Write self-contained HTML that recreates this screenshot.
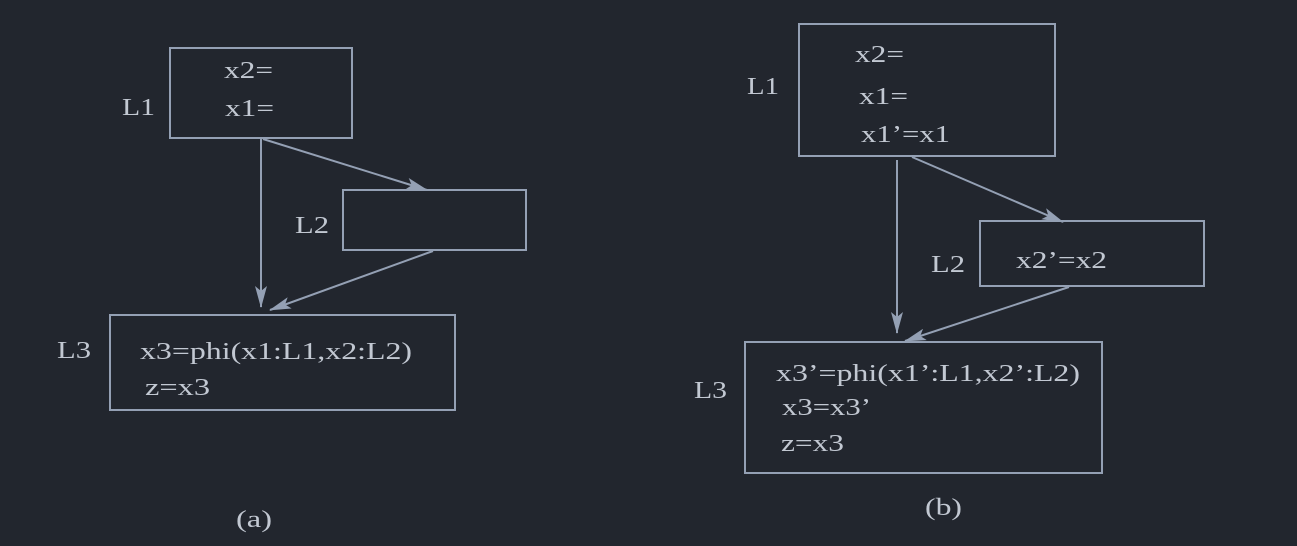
<!DOCTYPE html>
<html><head><meta charset="utf-8"><style>
html,body{margin:0;padding:0;background:#22262e;}
svg{display:block}
text{font-family:"Liberation Serif",serif;font-size:24px;fill:#c2c8d2;dominant-baseline:central}
</style></head><body>
<svg width="1297" height="546" viewBox="0 0 1297 546">
<defs>
<marker id="b" markerWidth="22" markerHeight="12" refX="21" refY="6" orient="auto" markerUnits="userSpaceOnUse"><path d="M0,0 L22,6 L0,12 L5,6 Z" fill="#94a0b4"/></marker></defs>
<g fill="none" stroke="#94a0b4" stroke-width="2">
<rect x="170" y="48" width="182" height="90"/>
<rect x="343" y="190" width="183" height="60"/>
<rect x="110" y="315" width="345" height="95"/>
<line x1="261" y1="138" x2="261" y2="307" marker-end="url(#b)"/>
<line x1="263" y1="139" x2="427" y2="190" marker-end="url(#b)"/>
<line x1="433" y1="251" x2="270" y2="310" marker-end="url(#b)"/>
<rect x="799" y="24" width="256" height="132"/>
<rect x="980" y="221" width="224" height="65"/>
<rect x="745" y="342" width="357" height="131"/>
<line x1="897" y1="160" x2="897" y2="333" marker-end="url(#b)"/>
<line x1="912" y1="157" x2="1063" y2="222" marker-end="url(#b)"/>
<line x1="1069" y1="287" x2="905" y2="341" marker-end="url(#b)"/>
</g>
<g lengthAdjust="spacingAndGlyphs">
<text x="224" y="71" textLength="49" lengthAdjust="spacingAndGlyphs">x2=</text>
<text x="225" y="109" textLength="49" lengthAdjust="spacingAndGlyphs">x1=</text>
<text x="122" y="108" textLength="33" lengthAdjust="spacingAndGlyphs">L1</text>
<text x="295" y="226" textLength="34" lengthAdjust="spacingAndGlyphs">L2</text>
<text x="57" y="351" textLength="34" lengthAdjust="spacingAndGlyphs">L3</text>
<text x="140" y="352" textLength="272" lengthAdjust="spacingAndGlyphs">x3=phi(x1:L1,x2:L2)</text>
<text x="145" y="388" textLength="65" lengthAdjust="spacingAndGlyphs">z=x3</text>
<text x="236" y="520" textLength="36" lengthAdjust="spacingAndGlyphs">(a)</text>
<text x="855" y="55" textLength="49" lengthAdjust="spacingAndGlyphs">x2=</text>
<text x="859" y="97" textLength="49" lengthAdjust="spacingAndGlyphs">x1=</text>
<text x="861" y="135" textLength="89" lengthAdjust="spacingAndGlyphs">x1’=x1</text>
<text x="747" y="87" textLength="32" lengthAdjust="spacingAndGlyphs">L1</text>
<text x="931" y="265" textLength="34" lengthAdjust="spacingAndGlyphs">L2</text>
<text x="1016" y="261" textLength="91" lengthAdjust="spacingAndGlyphs">x2’=x2</text>
<text x="694" y="391" textLength="33" lengthAdjust="spacingAndGlyphs">L3</text>
<text x="776" y="374" textLength="304" lengthAdjust="spacingAndGlyphs">x3’=phi(x1’:L1,x2’:L2)</text>
<text x="782" y="408" textLength="89" lengthAdjust="spacingAndGlyphs">x3=x3’</text>
<text x="781" y="444" textLength="63" lengthAdjust="spacingAndGlyphs">z=x3</text>
<text x="925" y="508" textLength="37" lengthAdjust="spacingAndGlyphs">(b)</text>
</g>
</svg>
</body></html>
